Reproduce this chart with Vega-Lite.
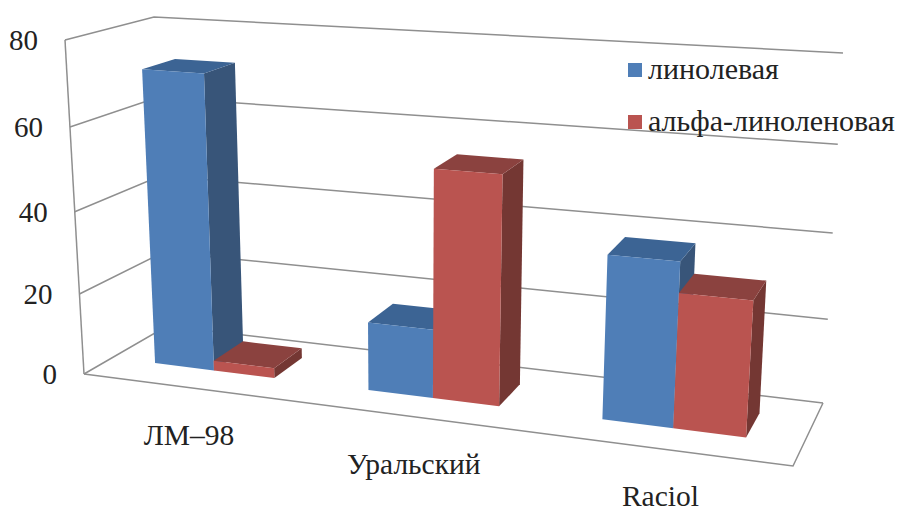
{
  "$schema": "https://vega.github.io/schema/vega-lite/v6.json",
  "width": 899,
  "height": 507,
  "padding": 0,
  "autosize": "none",
  "background": "white",
  "datasets": {
    "bars": [
      {"sort": "ЛМ–98", "acid": "линолевая", "value": 72},
      {"sort": "ЛМ–98", "acid": "альфа-линоленовая", "value": 2.5},
      {"sort": "Уральский", "acid": "линолевая", "value": 16.5},
      {"sort": "Уральский", "acid": "альфа-линоленовая", "value": 54},
      {"sort": "Raciol", "acid": "линолевая", "value": 38},
      {"sort": "Raciol", "acid": "альфа-линоленовая", "value": 31}
    ],
    "levels": [{"level": 0}, {"level": 20}, {"level": 40}, {"level": 60}, {"level": 80}],
    "categories": [{"sort": "ЛМ–98"}, {"sort": "Уральский"}, {"sort": "Raciol"}]
  },
  "layer": [
    {
      "description": "Back wall and side wall gridlines, one polyline per axis level",
      "data": {"name": "levels"},
      "transform": [
        {"calculate": "[0,1,2]", "as": "vertex"},
        {"flatten": ["vertex"]},
        {"calculate": "datum.vertex === 2 ? 1 : 0", "as": "u"},
        {"calculate": "datum.vertex === 0 ? 0 : 1", "as": "w"},
        {"calculate": "datum.u / (datum.u + (1 - datum.u) * 1.15)", "as": "U"},
        {"calculate": "(datum.level / 80) / (datum.level / 80 + (1 - datum.level / 80) * 1.058)", "as": "T"},
        {"calculate": "(1 - datum.T) * ((1 - datum.w) * (84 + 709 * datum.U) + datum.w * (167 + 656 * datum.U)) + datum.T * ((1 - datum.w) * (65 + 752 * datum.U) + datum.w * (154 + 689 * datum.U))", "as": "px"},
        {"calculate": "(1 - datum.T) * ((1 - datum.w) * (374 + 92 * datum.U) + datum.w * (326 + 77 * datum.U)) + datum.T * ((1 - datum.w) * (40 + 46 * datum.U) + datum.w * (17 + 36 * datum.U))", "as": "py"}
      ],
      "mark": {"type": "line", "stroke": "#8f8f8f", "strokeWidth": 1.5},
      "encoding": {
        "x": {"field": "px", "type": "quantitative", "scale": {"domain": [0, 899], "nice": false, "zero": false}, "axis": null},
        "y": {"field": "py", "type": "quantitative", "scale": {"domain": [507, 0], "nice": false, "zero": false}, "axis": null},
        "detail": {"field": "level"},
        "order": {"field": "vertex"}
      }
    },
    {
      "description": "Front and right edges of the floor, and the front edge of the value axis",
      "data": {"values": [
        {"path": "floor", "vertex": 0, "u": 0, "w": 0, "level": 0},
        {"path": "floor", "vertex": 1, "u": 1, "w": 0, "level": 0},
        {"path": "floor", "vertex": 2, "u": 1, "w": 1, "level": 0},
        {"path": "axis", "vertex": 0, "u": 0, "w": 0, "level": 0},
        {"path": "axis", "vertex": 1, "u": 0, "w": 0, "level": 80}
      ]},
      "transform": [
        {"calculate": "datum.u / (datum.u + (1 - datum.u) * 1.15)", "as": "U"},
        {"calculate": "(datum.level / 80) / (datum.level / 80 + (1 - datum.level / 80) * 1.058)", "as": "T"},
        {"calculate": "(1 - datum.T) * ((1 - datum.w) * (84 + 709 * datum.U) + datum.w * (167 + 656 * datum.U)) + datum.T * ((1 - datum.w) * (65 + 752 * datum.U) + datum.w * (154 + 689 * datum.U))", "as": "px"},
        {"calculate": "(1 - datum.T) * ((1 - datum.w) * (374 + 92 * datum.U) + datum.w * (326 + 77 * datum.U)) + datum.T * ((1 - datum.w) * (40 + 46 * datum.U) + datum.w * (17 + 36 * datum.U))", "as": "py"}
      ],
      "mark": {"type": "line", "stroke": "#8f8f8f", "strokeWidth": 1.5},
      "encoding": {
        "x": {"field": "px", "type": "quantitative", "scale": {"domain": [0, 899], "nice": false, "zero": false}, "axis": null},
        "y": {"field": "py", "type": "quantitative", "scale": {"domain": [507, 0], "nice": false, "zero": false}, "axis": null},
        "detail": {"field": "path"},
        "order": {"field": "vertex"}
      }
    },
    {
      "description": "Value axis labels at the front edge",
      "data": {"name": "levels"},
      "transform": [
        {"calculate": "(datum.level / 80) / (datum.level / 80 + (1 - datum.level / 80) * 1.058)", "as": "T"},
        {"calculate": "(1 - datum.T) * 84 + datum.T * 65", "as": "px"},
        {"calculate": "(1 - datum.T) * 374 + datum.T * 40", "as": "py"}
      ],
      "mark": {"type": "text", "font": "Liberation Serif", "fontSize": 29, "align": "right", "baseline": "middle", "dx": -27, "dy": 1, "color": "#222222"},
      "encoding": {
        "x": {"field": "px", "type": "quantitative", "scale": {"domain": [0, 899], "nice": false, "zero": false}, "axis": null},
        "y": {"field": "py", "type": "quantitative", "scale": {"domain": [507, 0], "nice": false, "zero": false}, "axis": null},
        "text": {"field": "level", "type": "quantitative"}
      }
    },
    {
      "description": "Category labels below the front edge of the floor",
      "data": {"name": "categories"},
      "transform": [
        {"calculate": "(indexof(['ЛМ–98','Уральский','Raciol'], datum.sort) + 0.5) / 3", "as": "u"},
        {"calculate": "datum.u / (datum.u + (1 - datum.u) * 1.15)", "as": "U"},
        {"calculate": "84 + 709 * datum.U", "as": "px"},
        {"calculate": "374 + 92 * datum.U", "as": "py"}
      ],
      "mark": {"type": "text", "font": "Liberation Serif", "fontSize": 29.5, "align": "center", "baseline": "alphabetic", "dy": 57, "color": "#222222"},
      "encoding": {
        "x": {"field": "px", "type": "quantitative", "scale": {"domain": [0, 899], "nice": false, "zero": false}, "axis": null},
        "y": {"field": "py", "type": "quantitative", "scale": {"domain": [507, 0], "nice": false, "zero": false}, "axis": null},
        "text": {"field": "sort"}
      }
    },
    {
      "description": "Bars as three projected faces each: side faces first, then tops, then fronts",
      "data": {"name": "bars"},
      "transform": [
        {"calculate": "(indexof(['ЛМ–98','Уральский','Raciol'], datum.sort) + 0.5) / 3 + (datum.acid === 'линолевая' ? -0.096 : -0.001)", "as": "u0"},
        {"calculate": "datum.u0 + 0.095", "as": "u1"},
        {"calculate": "['side','top','front']", "as": "face"},
        {"flatten": ["face"]},
        {"calculate": "[0,1,2,3]", "as": "corner"},
        {"flatten": ["corner"]},
        {"calculate": "datum.face === 'side' || datum.corner === 1 || datum.corner === 2 ? datum.u1 : datum.u0", "as": "u"},
        {"calculate": "datum.face === 'front' ? 0.34 : datum.face === 'top' ? (datum.corner < 2 ? 0.34 : 0.73) : (datum.corner === 1 || datum.corner === 2 ? 0.73 : 0.34)", "as": "w"},
        {"calculate": "datum.face === 'top' || datum.corner >= 2 ? datum.value : 0", "as": "level"},
        {"calculate": "datum.u / (datum.u + (1 - datum.u) * 1.15)", "as": "U"},
        {"calculate": "(datum.level / 80) / (datum.level / 80 + (1 - datum.level / 80) * 1.058)", "as": "T"},
        {"calculate": "(1 - datum.T) * ((1 - datum.w) * (84 + 709 * datum.U) + datum.w * (167 + 656 * datum.U)) + datum.T * ((1 - datum.w) * (65 + 752 * datum.U) + datum.w * (154 + 689 * datum.U))", "as": "px"},
        {"calculate": "(1 - datum.T) * ((1 - datum.w) * (374 + 92 * datum.U) + datum.w * (326 + 77 * datum.U)) + datum.T * ((1 - datum.w) * (40 + 46 * datum.U) + datum.w * (17 + 36 * datum.U))", "as": "py"},
        {"calculate": "datum.sort + '|' + datum.acid", "as": "bar"}
      ],
      "encoding": {
        "x": {"field": "px", "type": "quantitative", "scale": {"domain": [0, 899], "nice": false, "zero": false}, "axis": null},
        "y": {"field": "py", "type": "quantitative", "scale": {"domain": [507, 0], "nice": false, "zero": false}, "axis": null},
        "detail": {"field": "bar"},
        "order": {"field": "corner"}
      },
      "layer": [
        {
          "transform": [{"filter": "datum.face === 'side'"}],
          "mark": {"type": "line", "strokeWidth": 0},
          "encoding": {
            "fill": {"field": "acid", "scale": {"domain": ["линолевая", "альфа-линоленовая"], "range": ["#385579", "#743733"]}, "legend": null}
          }
        },
        {
          "transform": [{"filter": "datum.face === 'top'"}],
          "mark": {"type": "line", "strokeWidth": 0},
          "encoding": {
            "fill": {"field": "acid", "scale": {"domain": ["линолевая", "альфа-линоленовая"], "range": ["#3C6494", "#8B423F"]}, "legend": null}
          }
        },
        {
          "transform": [{"filter": "datum.face === 'front'"}],
          "mark": {"type": "line", "strokeWidth": 0},
          "encoding": {
            "fill": {
              "field": "acid",
              "scale": {"domain": ["линолевая", "альфа-линоленовая"], "range": ["#4F7EB7", "#BA5450"]},
              "legend": {
                "title": null,
                "orient": "none",
                "legendX": 620,
                "legendY": 55,
                "symbolType": "square",
                "symbolSize": 196,
                "symbolStrokeWidth": 0,
                "labelFont": "Liberation Serif",
                "labelFontSize": 30,
                "labelColor": "#222222",
                "labelLimit": 300,
                "labelOffset": -2,
                "rowPadding": 22
              }
            }
          }
        }
      ],
      "resolve": {"scale": {"fill": "independent"}}
    }
  ],
  "config": {"view": {"stroke": null}}
}
